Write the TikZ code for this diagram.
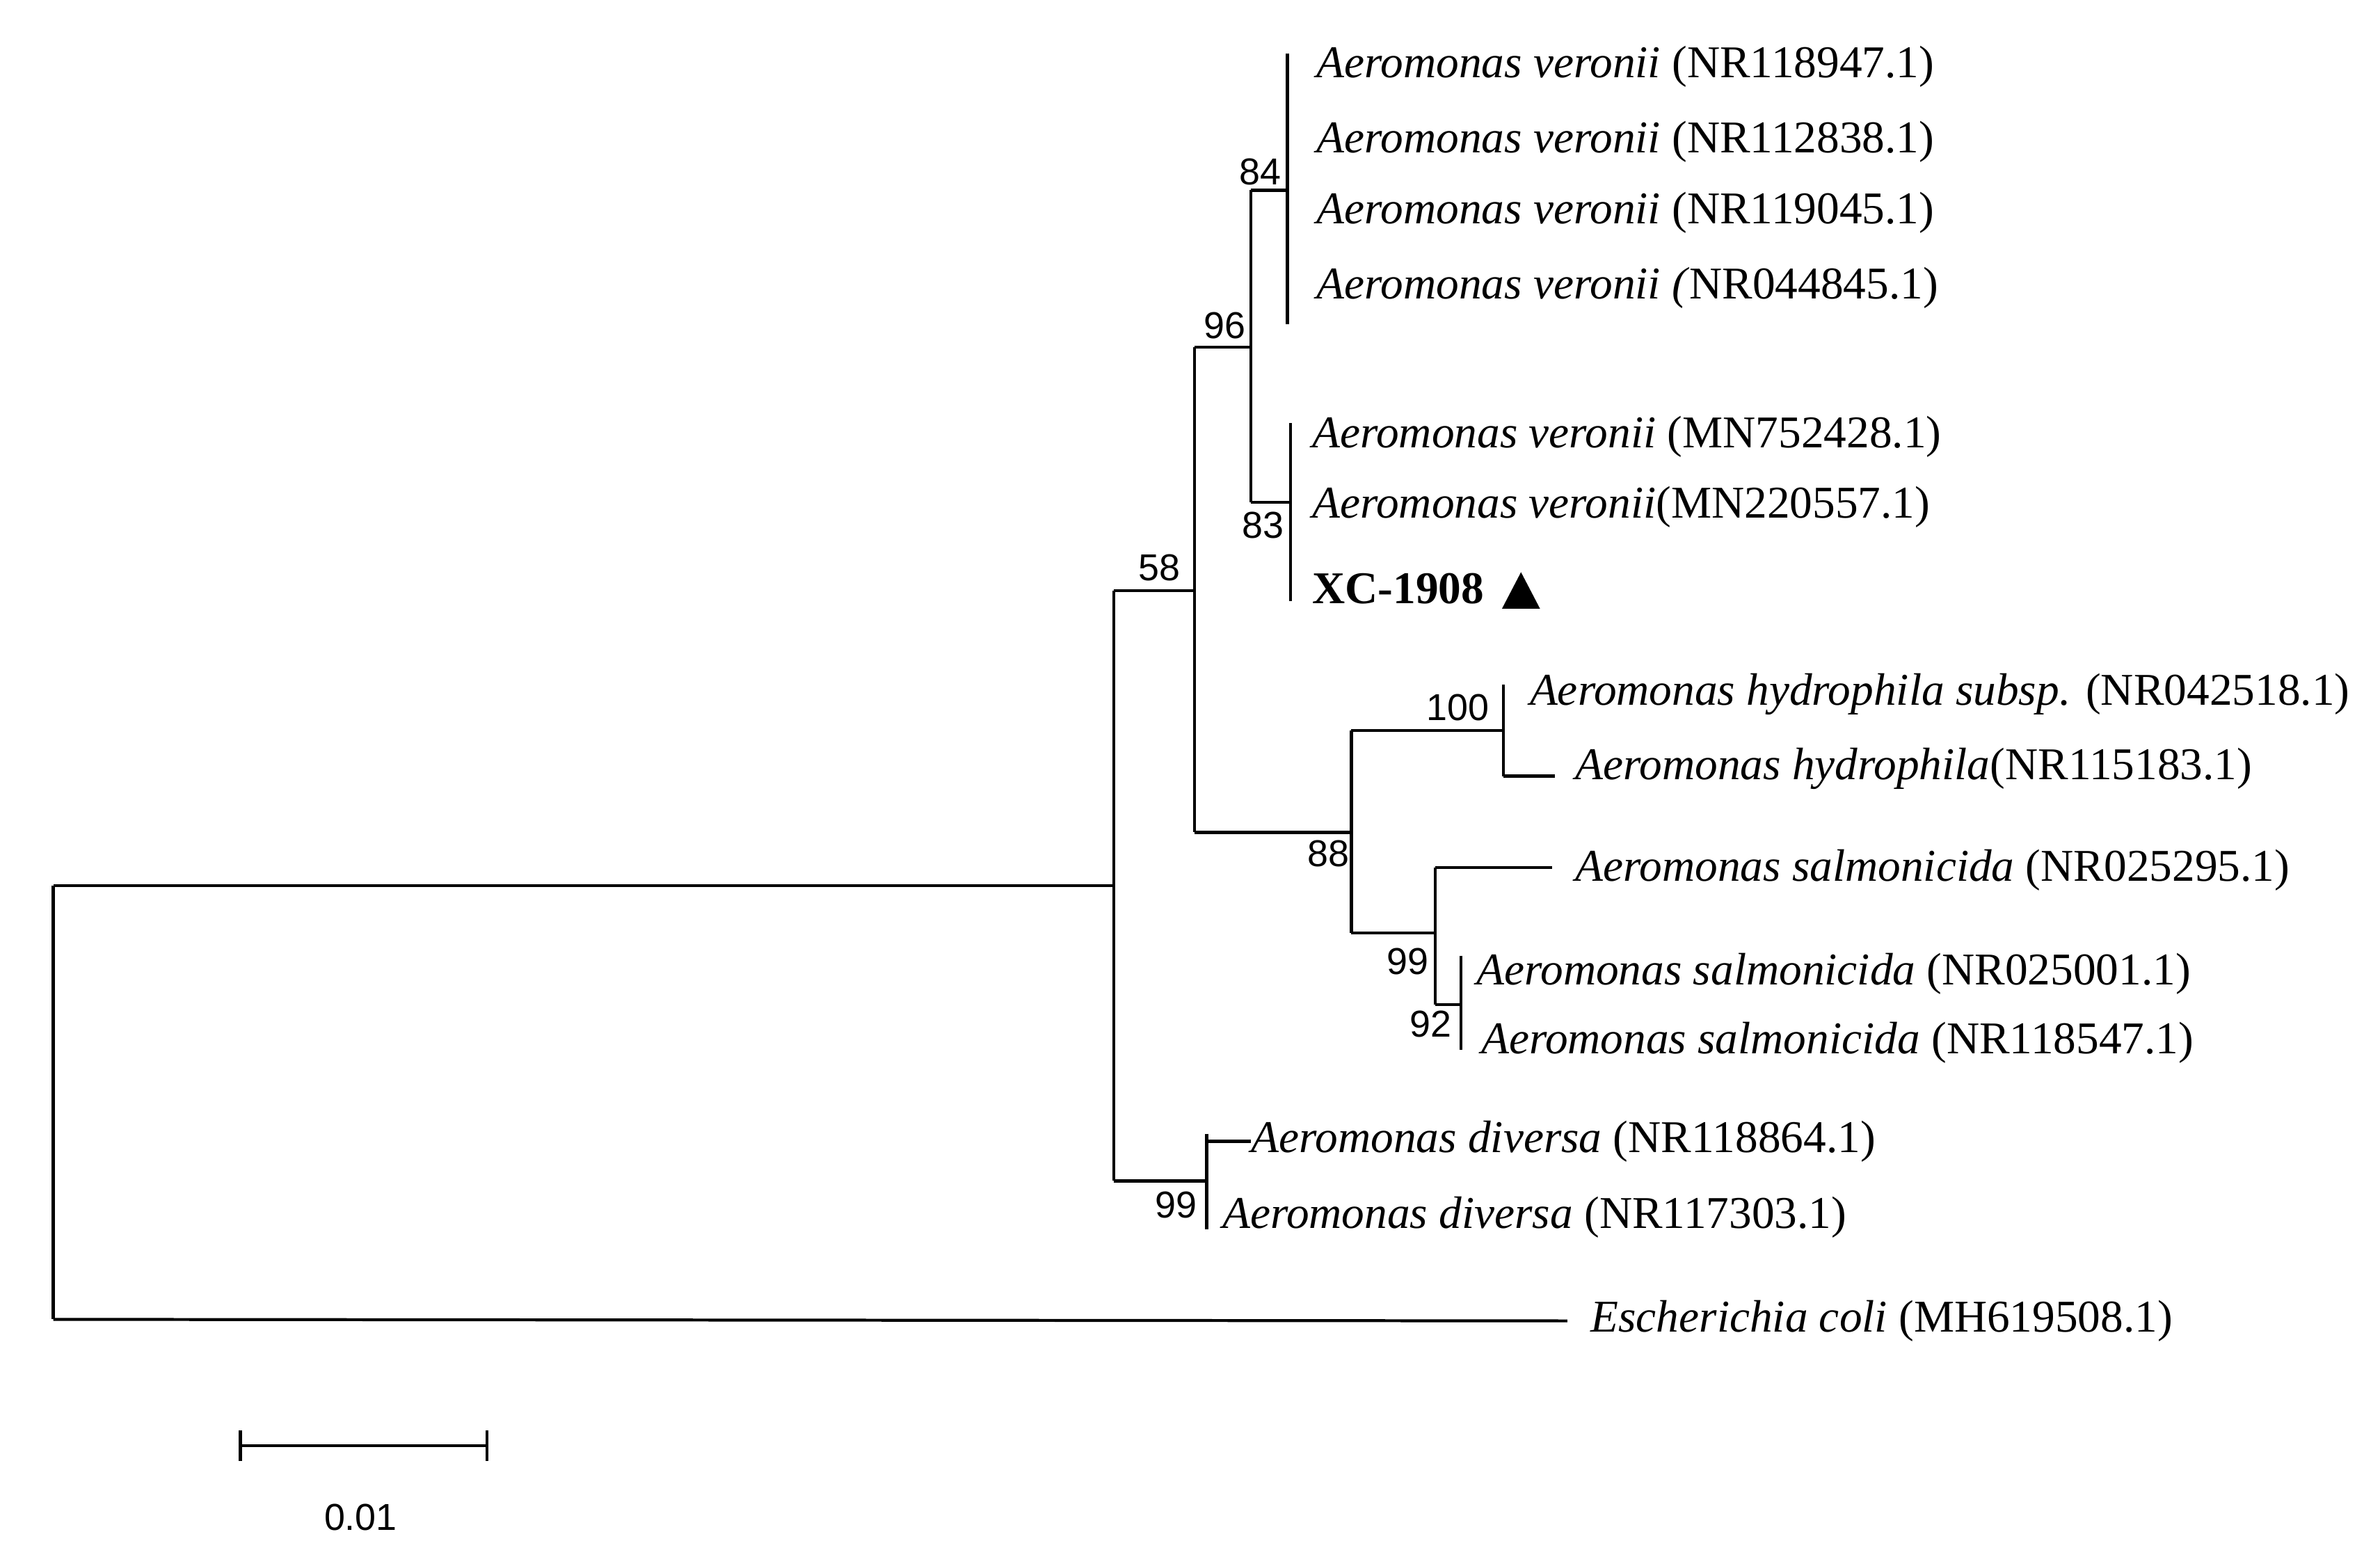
\documentclass[tikz,border=0pt]{standalone}
\usepackage{fontspec}
\setmainfont{Liberation Serif}
\newfontfamily\numfont{Liberation Sans}
\begin{document}
\begin{tikzpicture}[x=0.02cm,y=-0.02cm,
  br/.style={line width=1.1pt,black},
  leaf/.style={anchor=west,inner sep=0pt,font=\fontsize{17}{20}\selectfont},
  bs/.style={inner sep=0pt,font=\numfont\fontsize{14}{16}\selectfont}]
\useasboundingbox (0,0) rectangle (1564,1023);
% internal coordinates
\coordinate (r1) at (35,582); \coordinate (r2) at (35,867);
\coordinate (n58) at (732,582);
\coordinate (n58a) at (732,388); \coordinate (n58b) at (732,776);
\coordinate (n96) at (785,388); \coordinate (n96a) at (785,228); \coordinate (n96b) at (785,547);
\coordinate (n84p) at (822,228); \coordinate (n84a) at (822,125); \coordinate (n84b) at (822,330);
\coordinate (v1) at (846,125); \coordinate (v1t) at (846,35); \coordinate (v1b) at (846,213);
\coordinate (v2) at (848,330); \coordinate (v2t) at (848,278); \coordinate (v2b) at (848,395);
\coordinate (d) at (793,776); \coordinate (dt) at (793,745); \coordinate (db) at (793,808);
\coordinate (h) at (888,547); \coordinate (ht) at (888,480); \coordinate (hb) at (888,613);
\coordinate (h100) at (988,480); \coordinate (h100t) at (988,450); \coordinate (h100b) at (988,510);
\coordinate (s99) at (943,613); \coordinate (s99t) at (943,570); \coordinate (s99b) at (943,660);
\coordinate (s92) at (960,660); \coordinate (s92t) at (960,628); \coordinate (s92b) at (960,690);
% leaves
\node[leaf] (L1) at (865,44) {\textit{Aeromonas veronii} (NR118947.1)};
\node[leaf] (L2) at (865,93) {\textit{Aeromonas veronii} (NR112838.1)};
\node[leaf] (L3) at (865,140) {\textit{Aeromonas veronii} (NR119045.1)};
\node[leaf] (L4) at (865,189) {\textit{Aeromonas veronii (}NR044845.1)};
\node[leaf] (L5) at (862,287) {\textit{Aeromonas veronii} (MN752428.1)};
\node[leaf] (L6) at (862,333) {\textit{Aeromonas veronii}(MN220557.1)};
\node[leaf] (L7) at (862,387) {\textbf{XC-1908}};
\fill (987,400) -- (1012,400) -- (999.5,376) -- cycle;
\node[leaf] (L8) at (1005,456) {\textit{Aeromonas hydrophila subsp.} (NR042518.1)};
\node[leaf] (L9) at (1035,505) {\textit{Aeromonas hydrophila}(NR115183.1)};
\node[leaf] (L10) at (1035,572) {\textit{Aeromonas salmonicida} (NR025295.1)};
\node[leaf] (L11) at (970,640) {\textit{Aeromonas salmonicida} (NR025001.1)};
\node[leaf] (L12) at (973,685) {\textit{Aeromonas salmonicida} (NR118547.1)};
\node[leaf] (L13) at (822,750) {\textit{Aeromonas diversa} (NR118864.1)};
\node[leaf] (L14) at (803,800) {\textit{Aeromonas diversa} (NR117303.1)};
\node[leaf] (L15) at (1045,868) {\textit{Escherichia coli} (MH619508.1)};
% branches
\draw[br] (r1) -- (r2);
\draw[br] (r1) -- (n58);
\draw[br] (r2) -- (L15.west -| 1030,0) coordinate (ec);
\draw[br] (n58a) -- (n58b);
\draw[br] (n58a) -- (n96);
\draw[br] (n58b) -- (d);
\draw[br] (dt) -- (db);
\draw[br] (dt |- L13) -- (L13.west);
\draw[br] (n96a) -- (n96b);
\draw[br] (n96a) -- (n84p);
\draw[br] (n96b) -- (h);
\draw[br] (n84a) -- (n84b);
\draw[br] (n84a) -- (v1);
\draw[br] (n84b) -- (v2);
\draw[br] (v1t) -- (v1b);
\draw[br] (v2t) -- (v2b);
\draw[br] (ht) -- (hb);
\draw[br] (ht) -- (h100);
\draw[br] (hb) -- (s99);
\draw[br] (h100t) -- (h100b);
\draw[br] (h100b) -- (1022,510) coordinate (hy2);
\draw[br] (s99t) -- (s99b);
\draw[br] (s99t) -- (1020,570) coordinate (sal1);
\draw[br] (s99b) -- (s92);
\draw[br] (s92t) -- (s92b);
% bootstrap
\node[bs] (b58) at (762,373) {58};
\node[bs] (b96) at (805,214) {96};
\node[bs] (b84) at (828,113) {84};
\node[bs] (b83) at (830,345) {83};
\node[bs] (b100) at (958,465) {100};
\node[bs] (b88) at (873,561) {88};
\node[bs] (b99a) at (925,632) {99};
\node[bs] (b92) at (940,673) {92};
\node[bs] (b99b) at (773,792) {99};
% scale bar
\coordinate (sb1) at (158,950); \coordinate (sb2) at (320,950);
\draw[br] (sb1) -- (sb2);
\draw[br] (158,940) -- (158,960);
\draw[br] (320,940) -- (320,960);
\node[bs] (sbl) at (237,997) {0.01};
\end{tikzpicture}
\end{document}
